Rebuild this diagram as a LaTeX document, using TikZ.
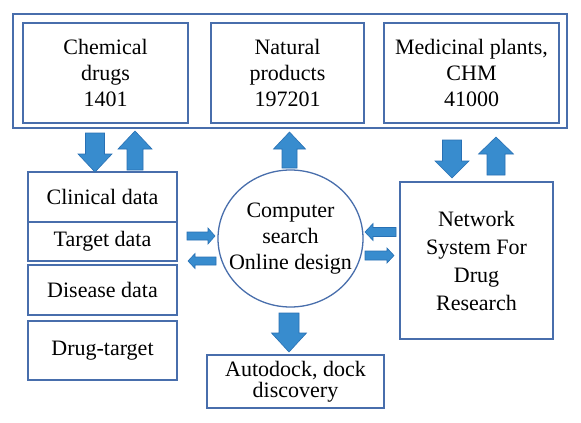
\documentclass[tikz,border=0pt]{standalone}
\usepackage{fontspec}
\setmainfont{Liberation Serif}
\usetikzlibrary{shapes.geometric}
\definecolor{boxline}{RGB}{72,110,172}
\definecolor{arrfill}{RGB}{56,140,206}
\definecolor{arrline}{RGB}{40,112,180}
\newcommand\varrowshape[6]{% cx, tail, headbase, tip, shaft half, head half
  \filldraw[arrstyle] ({#1-#5},#2) -- ({#1-#5},#3) -- ({#1-#6},#3) -- (#1,#4) -- ({#1+#6},#3) -- ({#1+#5},#3) -- ({#1+#5},#2) -- cycle;}
\newcommand\harrowshape[6]{% cy, tail, headbase, tip, shaft half, head half
  \filldraw[arrstyle] (#2,{#1-#5}) -- (#3,{#1-#5}) -- (#3,{#1-#6}) -- (#4,#1) -- (#3,{#1+#6}) -- (#3,{#1+#5}) -- (#2,{#1+#5}) -- cycle;}
\begin{document}
\begin{tikzpicture}[x=1pt,y=-1pt,
  arrstyle/.style={fill=arrfill,draw=arrline,line width=0.6pt,line join=miter},
  bx/.style={draw=boxline,line width=1.3pt,inner sep=0pt,align=center,
    font=\fontsize{22}{26}\selectfont},
  txt/.style={inner sep=0pt,align=center,font=\fontsize{22}{26}\selectfont},
]
\useasboundingbox (0,0) rectangle (581,423);
\fill[white] (0,0) rectangle (581,423);
% outer frame
\node[draw=boxline,line width=1.3pt,minimum width=554,minimum height=114,inner sep=0pt] (outer) at (290,71) {};
% top boxes
\node[bx,minimum width=165,minimum height=100] (chem) at (105.5,73) {Chemical\\drugs\\1401};
\node[bx,minimum width=153,minimum height=100] (nat) at (287.5,73) {Natural\\products\\197201};
\node[bx,minimum width=175,minimum height=100] (med) at (471.5,73) {Medicinal plants,\\CHM\\41000};
% left stack
\node[bx,minimum width=149,minimum height=50] (clin) at (102.5,197) {Clinical data};
\node[bx,minimum width=149,minimum height=39] (targ) at (102.5,241.5) {Target data};
\node[bx,minimum width=149,minimum height=50] (dis) at (102.5,290) {Disease data};
\node[bx,minimum width=149,minimum height=59] (drug) at (102.5,350.5) {Drug-target};
% circle
\node[draw=boxline,line width=1.3pt,ellipse,inner sep=0pt,minimum width=145,minimum height=137] (comp) at (290.5,238.5) {};
\node[txt] (comptext) at (comp.center) {Computer\\search\\Online design};
% network
\node[bx,minimum width=153,minimum height=157,font=\fontsize{22}{28}\selectfont] (net) at (476.5,260.5) {Network\\System For\\Drug\\Research};
% autodock
\node[bx,minimum width=177,minimum height=53,font=\fontsize{22}{21}\selectfont] (auto) at (295.5,381.5) {Autodock, dock\\discovery};
% block arrows
\varrowshape{95}{133}{154}{172}{9.5}{17}
\varrowshape{135}{170}{149}{131}{8}{17}
\varrowshape{289.5}{168}{149}{132}{7.5}{16}
\varrowshape{452}{140}{161}{178}{9.5}{17}
\varrowshape{496}{175}{154}{137}{9}{17.5}
\varrowshape{289}{313}{333}{352}{10}{17.5}
\harrowshape{236}{187}{208}{215}{4}{8}
\harrowshape{261}{216}{195}{188}{4}{7.5}
\harrowshape{232}{396}{373}{365}{4.5}{8.5}
\harrowshape{255.5}{365}{387}{394}{4.5}{7.5}
\end{tikzpicture}
\end{document}
